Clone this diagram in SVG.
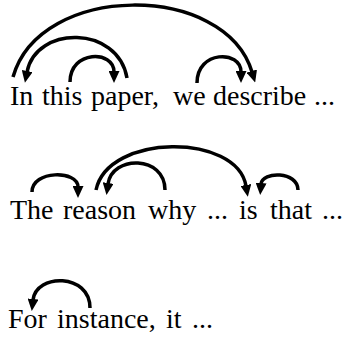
<svg xmlns="http://www.w3.org/2000/svg" width="345" height="339" viewBox="0 0 345 339">
<style>
text{font-family:"Liberation Serif","Times New Roman",serif;font-size:28px;fill:#000}
.arc{fill:none;stroke:#000;stroke-width:3.5;stroke-linecap:butt}
</style>
<defs>
<marker id="ah" markerUnits="userSpaceOnUse" viewBox="0 -5.5 12 11" markerWidth="12" markerHeight="11" refX="1" refY="0" orient="auto">
<path d="M0,-5.5 L12,0 L0,5.5 z" fill="#000"/>
</marker>
</defs>
<g id="row1">
<text x="10" y="105">In</text>
<text x="42" y="105">this</text>
<text x="91" y="105">paper,</text>
<text x="173" y="105">we</text>
<text x="213" y="105">describe</text>
<text x="314" y="105">...</text>
</g>
<g id="row2">
<text x="10" y="219">The</text>
<text x="63" y="219">reason</text>
<text x="148" y="219">why</text>
<text x="207" y="219">...</text>
<text x="239" y="219">is</text>
<text x="270" y="219">that</text>
<text x="322" y="219">...</text>
</g>
<g id="row3">
<text x="8" y="328">For</text>
<text x="57" y="328">instance,</text>
<text x="166" y="328">it</text>
<text x="192" y="328">...</text>
</g>
<g id="connectors">
<path class="arc" marker-end="url(#ah)" d="M13,77 C40,-18 225,-18 252,72"/>
<path class="arc" marker-end="url(#ah)" d="M127,78 C118,25 36,25 27,72"/>
<path class="arc" marker-end="url(#ah)" d="M70,82 C70,50 114,50 114,72"/>
<path class="arc" marker-end="url(#ah)" d="M197,83 C197,50 241,50 241,72"/>
<path class="arc" marker-end="url(#ah)" d="M32,192 C32,170 78,170 78,187"/>
<path class="arc" marker-end="url(#ah)" d="M96,190 C108,133 237,133 246,186"/>
<path class="arc" marker-end="url(#ah)" d="M165,190 C165,155 112,155 108,184"/>
<path class="arc" marker-end="url(#ah)" d="M298,190 C298,171 262,171 261,184"/>
<path class="arc" marker-end="url(#ah)" d="M90,308 C90,273 36,273 33,300"/>
</g>
</svg>
